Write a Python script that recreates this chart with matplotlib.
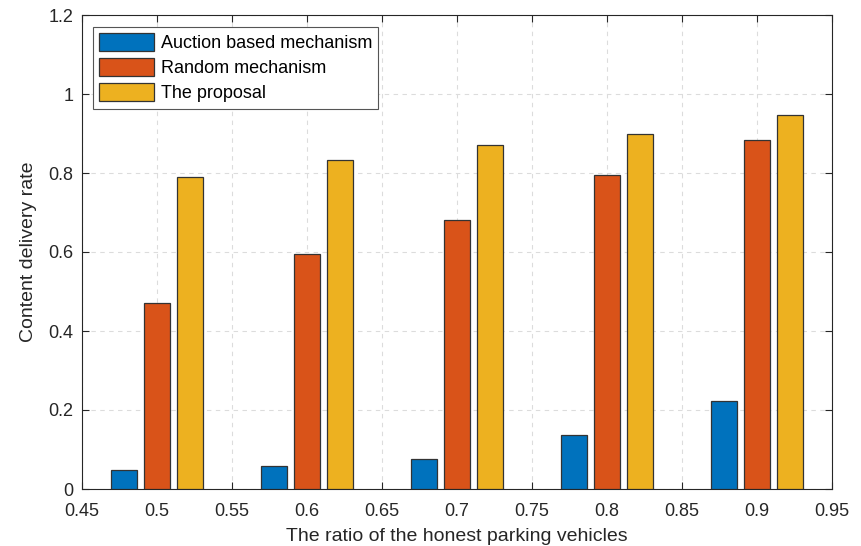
import numpy as np
import matplotlib.pyplot as plt

plt.rcParams['font.family'] = ['Liberation Sans', 'DejaVu Sans']

# honest ratio on x, delivery rate per mechanism
ratios = [0.5, 0.6, 0.7, 0.8, 0.9]
auction = [0.048, 0.058, 0.076, 0.137, 0.223]
random_mech = [0.472, 0.594, 0.680, 0.794, 0.883]
proposal = [0.789, 0.832, 0.870, 0.900, 0.946]
labels = ['Auction based mechanism', 'Random mechanism', 'The proposal']
colors = ['#0072BD', '#D95319', '#EDB120']

fig = plt.figure(figsize=(8.61, 5.46), dpi=100)
ax = fig.add_axes([82/861, 57/546, 750/861, 474/546])

x = np.array(ratios)
width = 0.0175
offset = 0.022
for i, (vals, lab, c) in enumerate(zip([auction, random_mech, proposal], labels, colors)):
    ax.bar(x + (i - 1) * offset, vals, width, color=c, edgecolor='#333333',
           linewidth=0.9, label=lab, zorder=3)

ax.set_xlim(0.45, 0.95)
ax.set_ylim(0, 1.2)
ax.set_xticks(np.arange(0.45, 0.951, 0.05))
ax.set_xticklabels(['0.45', '0.5', '0.55', '0.6', '0.65', '0.7', '0.75', '0.8', '0.85', '0.9', '0.95'])
ax.set_yticks(np.arange(0, 1.21, 0.2))
ax.set_yticklabels(['0', '0.2', '0.4', '0.6', '0.8', '1', '1.2'])
ax.tick_params(direction='in', top=True, right=True, labelsize=13, colors='#262626',
               length=5, width=0.8)
ax.tick_params(axis='x', pad=10)
ax.tick_params(axis='y', pad=6)
for s in ax.spines.values():
    s.set_color('#262626')
    s.set_linewidth(0.8)
ax.grid(True, linestyle=(0, (4, 4)), color='#dcdcdc', linewidth=0.8, zorder=0)
ax.set_axisbelow(True)

ax.set_xlabel('The ratio of the honest parking vehicles', fontsize=14, color='#262626',
              labelpad=6)
ax.set_ylabel('Content delivery rate', fontsize=14, color='#262626', labelpad=8)

leg = ax.legend(loc='upper left', fontsize=13, fancybox=False, framealpha=1,
                edgecolor='#555555', handlelength=3.0, handleheight=1.1,
                handletextpad=0.4, labelspacing=0.35, borderpad=0.35,
                borderaxespad=0, bbox_to_anchor=(0.0147, 0.975))
leg.get_frame().set_linewidth(0.8)

fig.savefig('out.png', dpi=100)
